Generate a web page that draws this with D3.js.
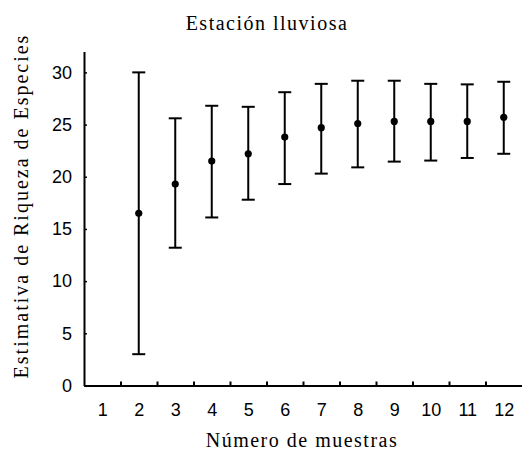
<!DOCTYPE html>
<html lang="es">
<head>
<meta charset="UTF-8">
<script src="https://d3js.org/d3.v7.min.js"></script>
<style>
  html, body { margin: 0; padding: 0; background: #fff; }
  .serif { font-family: 'Liberation Serif', 'Times New Roman', serif; font-size: 20px; letter-spacing: 1.5px; fill: #000; }
  .tick text { font-family: 'Liberation Sans', Arial, sans-serif; font-size: 18px; fill: #000; }
</style>
</head>
<body>
<div id="chart"></div>
<script>
// muestras 2..12 (la 1 no tiene estimativa)
var muestras = [2, 3, 4, 5, 6, 7, 8, 9, 10, 11, 12];
var media    = [16.5, 19.3, 21.5, 22.2, 23.8, 24.7, 25.1, 25.3, 25.3, 25.3, 25.7];
var superior = [30.0, 25.6, 26.8, 26.7, 28.1, 28.9, 29.2, 29.2, 28.9, 28.85, 29.1];
var inferior = [3.0, 13.2, 16.1, 17.8, 19.3, 20.3, 20.9, 21.45, 21.55, 21.8, 22.2];
var xTicks = [1, 2, 3, 4, 5, 6, 7, 8, 9, 10, 11, 12];
var yTicks = [0, 5, 10, 15, 20, 25, 30];

var width = 522, height = 460;

var svg = d3.select("#chart")
  .append("svg")
  .attr("width", width)
  .attr("height", height);

var x = d3.scaleLinear().domain([0.5, 12.5]).range([84, 522]);
var y = d3.scaleLinear().domain([0, 32]).range([385.5, 51.5]);

// eje y
var gy = svg.append("g")
  .attr("transform", "translate(84,0)")
  .call(d3.axisLeft(y).tickValues(yTicks).tickSize(-3).tickSizeOuter(0).tickPadding(12));
gy.select(".domain").attr("stroke-width", 2);
gy.selectAll(".tick line").attr("stroke-width", 1.5);

// eje x: etiquetas en los enteros
var gx = svg.append("g")
  .attr("transform", "translate(0,385.5)")
  .call(d3.axisBottom(x).tickValues(xTicks).tickSize(0).tickSizeOuter(0).tickPadding(18));
gx.select(".domain").attr("stroke-width", 2);

// marcas entre categorias
var gxt = svg.append("g")
  .attr("transform", "translate(0,385.5)")
  .call(d3.axisBottom(x).tickValues(xTicks.slice(0, -1).map(function(d) { return d + 0.5; }))
    .tickFormat("").tickSize(-4).tickSizeOuter(0));
gxt.select(".domain").remove();
gxt.selectAll(".tick line").attr("stroke-width", 2);

// barras de error
var datos = muestras.map(function(m, i) {
  return { m: m, media: media[i], sup: superior[i], inf: inferior[i] };
});

var cap = 6.5;
var g = svg.append("g").attr("stroke", "#000").attr("stroke-width", 2);

g.selectAll(".vert").data(datos).enter().append("line")
  .attr("x1", function(d) { return x(d.m); })
  .attr("x2", function(d) { return x(d.m); })
  .attr("y1", function(d) { return y(d.sup); })
  .attr("y2", function(d) { return y(d.inf); });

g.selectAll(".top").data(datos).enter().append("line")
  .attr("x1", function(d) { return x(d.m) - cap; })
  .attr("x2", function(d) { return x(d.m) + cap; })
  .attr("y1", function(d) { return y(d.sup); })
  .attr("y2", function(d) { return y(d.sup); });

g.selectAll(".bot").data(datos).enter().append("line")
  .attr("x1", function(d) { return x(d.m) - cap; })
  .attr("x2", function(d) { return x(d.m) + cap; })
  .attr("y1", function(d) { return y(d.inf); })
  .attr("y2", function(d) { return y(d.inf); });

svg.selectAll(".punto").data(datos).enter().append("circle")
  .attr("cx", function(d) { return x(d.m); })
  .attr("cy", function(d) { return y(d.media); })
  .attr("r", 3.6)
  .attr("fill", "#000");

// titulos
svg.append("text")
  .attr("class", "serif")
  .attr("x", 267)
  .attr("y", 30)
  .attr("text-anchor", "middle")
  .text("Estación lluviosa");

svg.append("text")
  .attr("class", "serif")
  .attr("x", 302)
  .attr("y", 447)
  .attr("text-anchor", "middle")
  .text("Número de muestras");

svg.append("text")
  .attr("class", "serif")
  .attr("transform", "translate(28,206) rotate(-90)")
  .attr("text-anchor", "middle")
  .style("letter-spacing", "2px")
  .text("Estimativa de Riqueza de Especies");
</script>
</body>
</html>
